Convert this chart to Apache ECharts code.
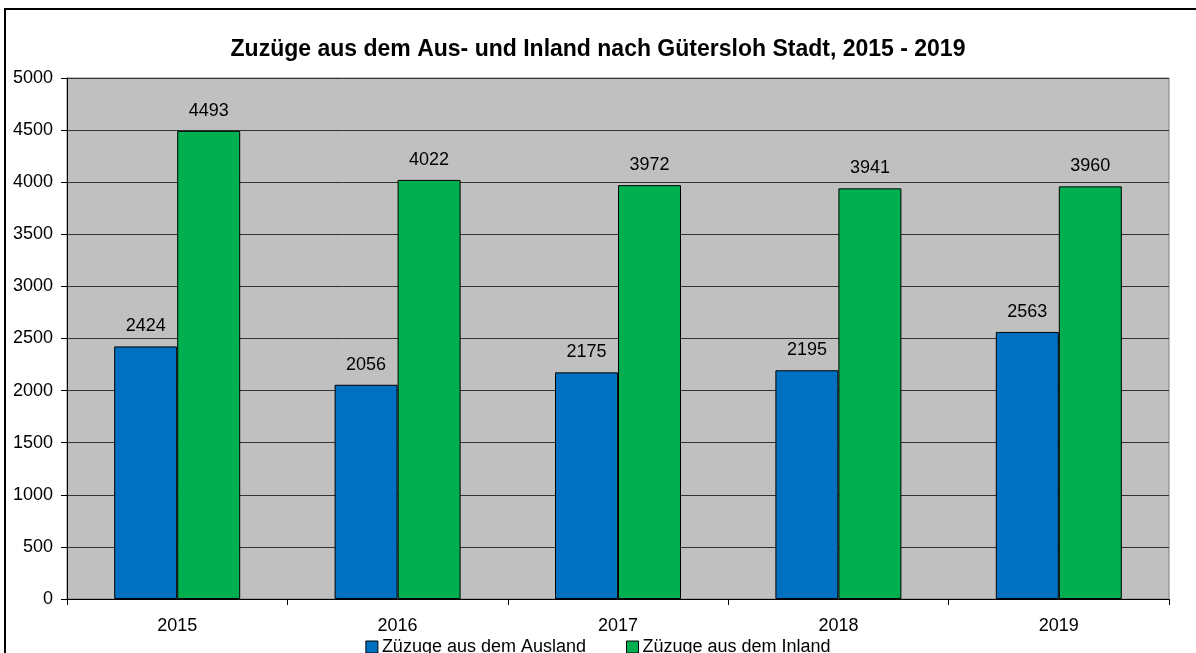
<!DOCTYPE html>
<html>
<head>
<meta charset="utf-8">
<script src="https://cdn.jsdelivr.net/npm/echarts@6/dist/echarts.min.js"></script>
<style>
  html, body { margin: 0; padding: 0; background: #fff; }
  #chart { width: 1196px; height: 653px; }
</style>
</head>
<body>
<div id="chart"></div>
<script>
var years = ['2015', '2016', '2017', '2018', '2019'];
var ausland = [2424, 2056, 2175, 2195, 2563];
var inland = [4493, 4022, 3972, 3941, 3960];
var seriesNames = ['Züzuge aus dem Ausland', 'Züzuge aus dem Inland'];

var chart = echarts.init(document.getElementById('chart'));

var barLabel = {
  show: true,
  position: 'top',
  distance: 11,
  color: '#000',
  fontFamily: 'Liberation Sans, Arial, sans-serif',
  fontSize: 18
};

var option = {
  animation: false,
  textStyle: { fontFamily: 'Liberation Sans, Arial, sans-serif' },
  graphic: [{
    type: 'rect',
    shape: { x: 5, y: 9, width: 1200, height: 660 },
    style: { fill: 'none', stroke: '#000', lineWidth: 2 },
    silent: true
  }],
  title: {
    text: 'Zuzüge aus dem Aus- und Inland nach Gütersloh Stadt, 2015 - 2019',
    left: 'center',
    top: 33,
    textStyle: { fontSize: 23, fontWeight: 'bold', color: '#000', fontFamily: 'Liberation Sans, Arial, sans-serif' }
  },
  legend: {
    top: 633,
    left: 'center',
    itemWidth: 12,
    itemHeight: 12,
    itemGap: 40,
    icon: 'rect',
    itemStyle: { borderColor: '#000', borderWidth: 1 },
    textStyle: { fontSize: 18, color: '#000', padding: [0, 0, 0, -1] },
    data: seriesNames
  },
  grid: { left: 67, right: 27, top: 78, bottom: 54, containLabel: false, show: true, backgroundColor: '#C0C0C0', borderColor: '#808080', borderWidth: 1 },
  xAxis: {
    type: 'category',
    data: years,
    axisLine: { lineStyle: { color: '#000', width: 1 } },
    axisTick: { show: true, length: 6, lineStyle: { color: '#000' } },
    axisLabel: { fontSize: 18, color: '#000', margin: 18 }
  },
  yAxis: {
    type: 'value',
    min: 0,
    max: 5000,
    interval: 500,
    axisLine: { show: true, lineStyle: { color: '#000' } },
    axisTick: { show: true, length: 6, lineStyle: { color: '#000' } },
    axisLabel: { fontSize: 18, color: '#000', margin: 14, formatter: function (v) { return String(v); } },
    splitLine: { lineStyle: { color: '#333', width: 1 } }
  },
  series: [{
    name: seriesNames[0],
    type: 'bar',
    data: ausland,
    barWidth: 63,
    barGap: '0%',
    itemStyle: { color: '#0070C0', borderColor: '#000', borderWidth: 1 },
    label: barLabel
  }, {
    name: seriesNames[1],
    type: 'bar',
    data: inland,
    barWidth: 63,
    itemStyle: { color: '#00B050', borderColor: '#000', borderWidth: 1 },
    label: barLabel
  }]
};

chart.setOption(option);
</script>
</body>
</html>
